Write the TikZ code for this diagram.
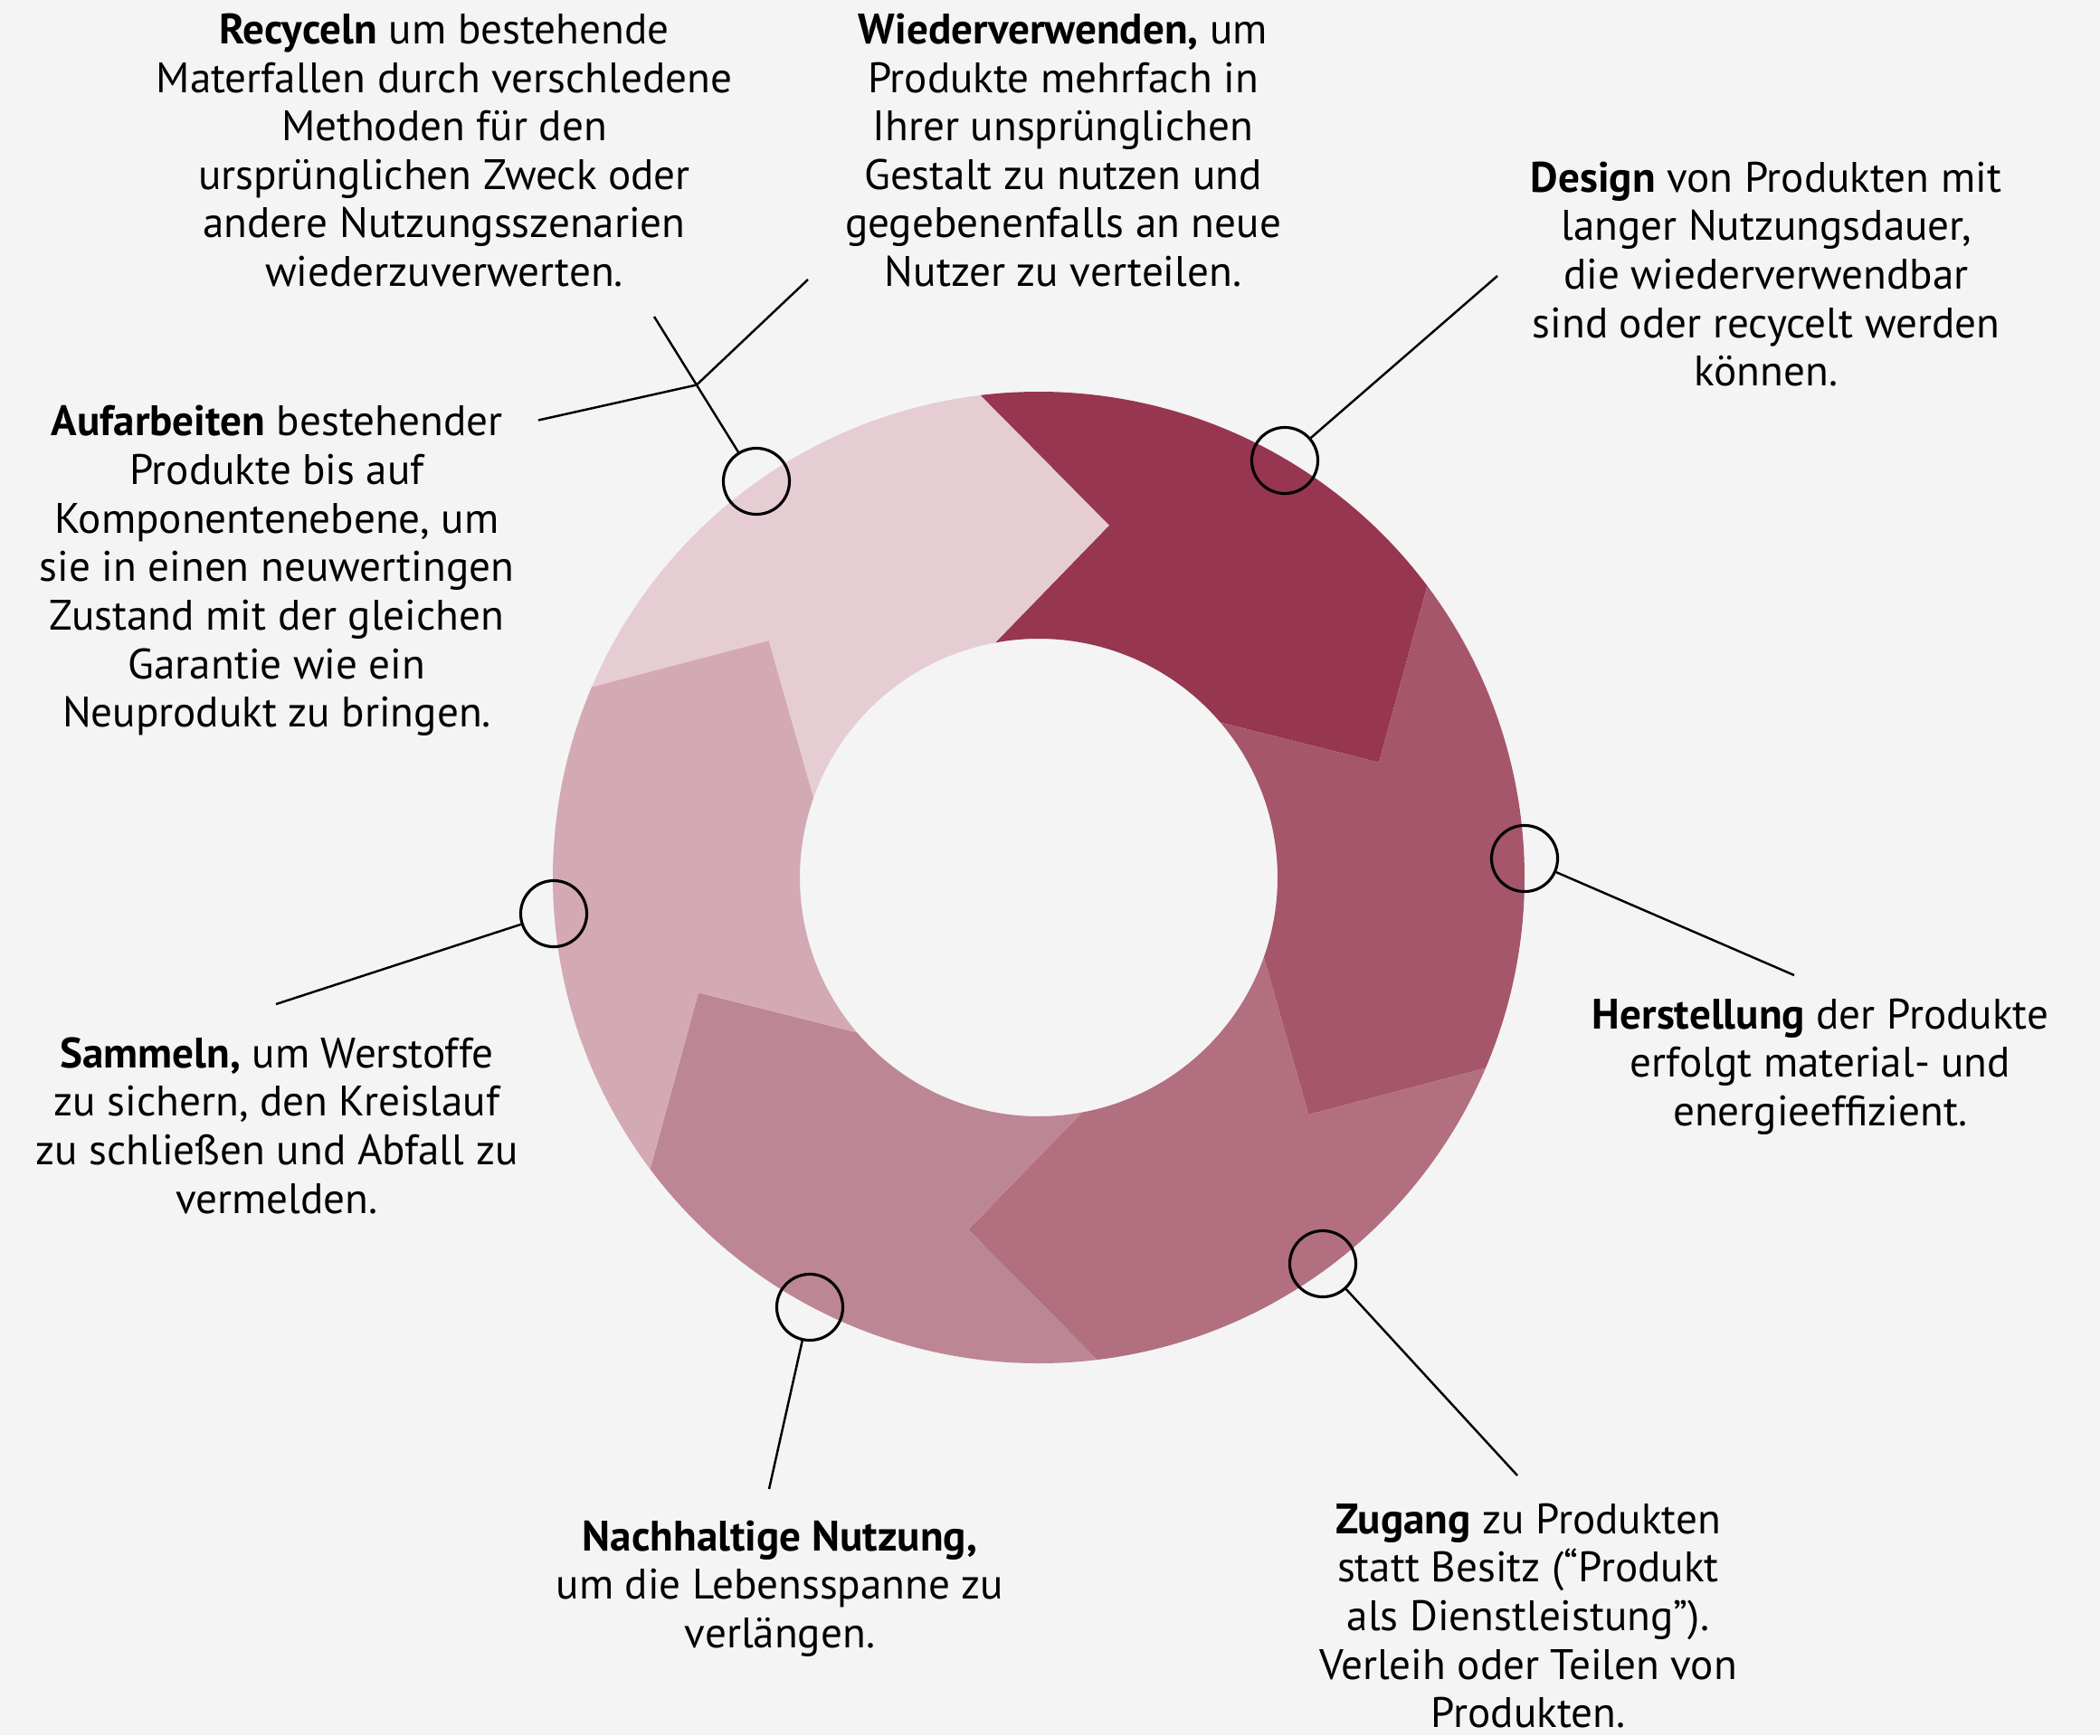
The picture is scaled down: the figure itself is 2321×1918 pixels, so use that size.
\documentclass[tikz,border=0pt]{standalone}
\usepackage{fontspec}
\setmainfont{PT Sans}
\usepackage{tikz}
\usetikzlibrary{shapes}
\usetikzlibrary{positioning}
\usetikzlibrary{calc}

\definecolor{paper}{HTML}{F4F4F4}
\definecolor{segA}{HTML}{973650}
\definecolor{segB}{HTML}{A5566B}
\definecolor{segC}{HTML}{B26F80}
\definecolor{segD}{HTML}{BD8694}
\definecolor{segE}{HTML}{D3A9B4}
\definecolor{segF}{HTML}{E6CCD3}

\tikzset{
    ringdot/.style={circle, draw=black, line width=0.9pt, minimum size=0.73cm, inner sep=0pt},
    blurb/.style={align=center, inner sep=0pt, text=black, font=\fontsize{13.4}{15.25}\selectfont},
    leader/.style={draw=black, line width=0.7pt}
}

\begin{document}
\begin{tikzpicture}[x=0.01cm, y=-0.01cm]
        \fill[paper] (0,0) rectangle (2321,1918);
        \useasboundingbox (0,0) rectangle (2321,1918);

        % ring
        \begin{scope}[shift={(1148,970)}, yscale=-1]
        \fill[segA] (96.9:537) arc[start angle=96.9, end angle=36.9, radius=537] -- (18.7:397) -- (40.5:264) arc[start angle=40.5, end angle=100.5, radius=264] -- (78.7:397) -- cycle;
        \fill[segB] (36.9:537) arc[start angle=36.9, end angle=-23.1, radius=537] -- (-41.3:397) -- (-19.5:264) arc[start angle=-19.5, end angle=40.5, radius=264] -- (18.7:397) -- cycle;
        \fill[segC] (-23.1:537) arc[start angle=-23.1, end angle=-83.1, radius=537] -- (-101.3:397) -- (-79.5:264) arc[start angle=-79.5, end angle=-19.5, radius=264] -- (-41.3:397) -- cycle;
        \fill[segD] (-83.1:537) arc[start angle=-83.1, end angle=-143.1, radius=537] -- (-161.3:397) -- (-139.5:264) arc[start angle=-139.5, end angle=-79.5, radius=264] -- (-101.3:397) -- cycle;
        \fill[segE] (-143.1:537) arc[start angle=-143.1, end angle=-203.1, radius=537] -- (-221.3:397) -- (-199.5:264) arc[start angle=-199.5, end angle=-139.5, radius=264] -- (-161.3:397) -- cycle;
        \fill[segF] (-203.1:537) arc[start angle=-203.1, end angle=-263.1, radius=537] -- (-281.3:397) -- (-259.5:264) arc[start angle=-259.5, end angle=-199.5, radius=264] -- (-221.3:397) -- cycle;
        \end{scope}

        % markers on the ring
        \node[ringdot] (dotloop) at (836,532) {};
        \node[ringdot] (dotdesign) at (1420,509) {};
        \node[ringdot] (dotmake) at (1685,949) {};
        \node[ringdot] (dotaccess) at (1462,1397) {};
        \node[ringdot] (dotuse) at (895,1445) {};
        \node[ringdot] (dotcollect) at (612,1010) {};

        % texts
        \node[blurb] (recycle) at (491,166) {\textbf{Recyceln} um bestehende\\Materfallen durch verschledene\\Methoden für den\\ursprünglichen Zweck oder\\andere Nutzungsszenarien\\wiederzuverwerten.};
        \node[blurb] (reuse) at (1175,166) {\textbf{Wiederverwenden,} um\\Produkte mehrfach in\\Ihrer unsprünglichen\\Gestalt zu nutzen und\\gegebenenfalls an neue\\Nutzer zu verteilen.};
        \node[blurb] (design) at (1952,303) {\textbf{Design} von Produkten mit\\langer Nutzungsdauer,\\die wiederverwendbar\\sind oder recycelt werden\\können.};
        \node[blurb] (refurbish) at (306,631) {\textbf{Aufarbeiten} bestehender\\Produkte bis auf\\Komponentenebene, um\\sie in einen neuwertingen\\Zustand mit der gleichen\\Garantie wie ein\\Neuprodukt zu bringen.};
        \node[blurb] (produce) at (2012,1179) {\textbf{Herstellung} der Produkte\\erfolgt material- und\\energieeffizient.};
        \node[blurb] (collect) at (306,1244) {\textbf{Sammeln,} um Werstoffe\\zu sichern, den Kreislauf\\zu schließen und Abfall zu\\vermelden.};
        \node[blurb] (usage) at (862,1756) {\textbf{Nachhaltige Nutzung,}\\um die Lebensspanne zu\\verlängen.};
        \node[blurb] (access) at (1689,1786) {\textbf{Zugang} zu Produkten\\statt Besitz (“Produkt\\als Dienstleistung”).\\Verleih oder Teilen von\\Produkten.};

        % leader lines
        \coordinate (recycleend) at (723,350);
        \coordinate (fork) at (769.9,425.5);
        \coordinate (reuseend) at (893,309);
        \coordinate (refurbishend) at (595,464.5);
        \coordinate (designend) at (1655,305);
        \coordinate (makeend) at (1983,1078);
        \coordinate (accessend) at (1677,1631);
        \coordinate (useend) at (850,1646);
        \coordinate (collectend) at (305,1110);

        \draw[leader] (dotloop) -- (fork) -- (recycleend);
        \draw[leader] (fork) -- (reuseend);
        \draw[leader] (fork) -- (refurbishend);
        \draw[leader] (dotdesign) -- (designend);
        \draw[leader] (dotmake) -- (makeend);
        \draw[leader] (dotaccess) -- (accessend);
        \draw[leader] (dotuse) -- (useend);
        \draw[leader] (dotcollect) -- (collectend);
    \end{tikzpicture}
\end{document}
